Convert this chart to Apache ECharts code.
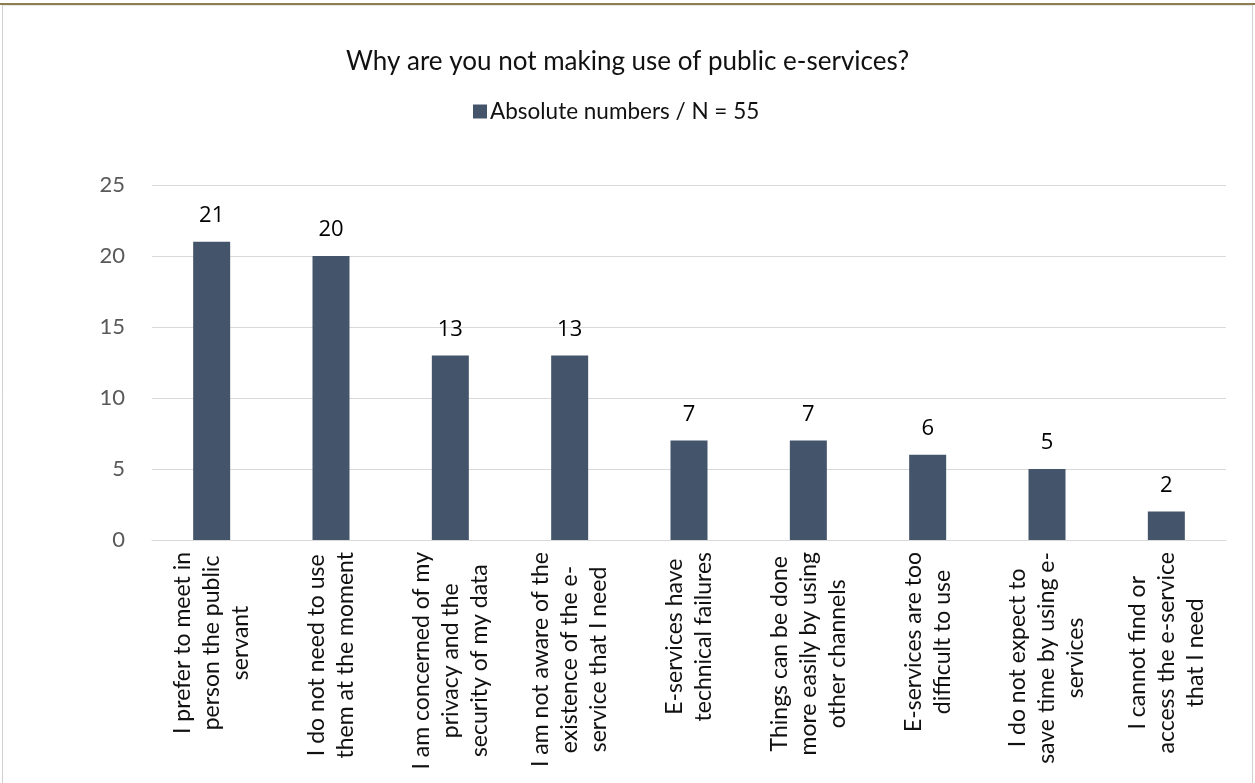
<!DOCTYPE html>
<html><head><meta charset="utf-8">
<script src="https://cdn.jsdelivr.net/npm/echarts@6/dist/echarts.min.js"></script>
<style>html,body{margin:0;padding:0;background:#fff}#c{width:1255px;height:783px}</style>
</head><body><div id="c"></div>
<script>
const categories = [
  "I prefer to meet in\nperson the public\nservant",
  "I do not need to use\nthem at the moment",
  "I am concerned of my\nprivacy and the\nsecurity of my data",
  "I am not aware of the\nexistence of the e-\nservice that I need",
  "E-services have\ntechnical failures",
  "Things can be done\nmore easily by using\nother channels",
  "E-services are too\ndifficult to use",
  "I do not expect to\nsave time by using e-\nservices",
  "I cannot find or\naccess the e-service\nthat I need"
];
const values = [21, 20, 13, 13, 7, 7, 6, 5, 2];
const seriesName = "Absolute numbers / N = 55";
const titleText = "Why are you not making use of public e-services?";

const chart = echarts.init(document.getElementById('c'), null, {renderer: 'canvas'});
const fontMain = "Lato, 'Open Sans', sans-serif";
chart.setOption({
  backgroundColor: '#fff',
  animation: false,
  title: {
    text: titleText, left: 'center', top: 44,
    textStyle: {fontFamily: fontMain, fontSize: 26, fontWeight: 'normal', color: '#111'}
  },
  legend: {
    data: [seriesName], top: 95, left: 468, itemWidth: 14, itemHeight: 14, itemGap: 6,
    icon: 'rect',
    textStyle: {fontFamily: fontMain, fontSize: 22.5, color: '#111', padding: [0,0,0,-2]}
  },
  grid: {left: 152, right: 29, top: 185, bottom: 243, containLabel: false},
  xAxis: {
    type: 'category', data: categories,
    axisTick: {show: false},
    axisLine: {lineStyle: {color: '#d9d9d9', width: 1}},
    axisLabel: {
      interval: 0, rotate: 90, margin: 12,
      fontFamily: fontMain, fontSize: 23, color: '#111', lineHeight: 29,
      formatter: v => v.split('\n').map(s => '{c|' + s + '}').join('\n'),
      rich: {c: {align: 'center', fontFamily: fontMain, fontSize: 23, color: '#111', lineHeight: 29}}
    }
  },
  yAxis: {
    type: 'value', min: 0, max: 25, interval: 5,
    axisLine: {show: false}, axisTick: {show: false},
    splitLine: {lineStyle: {color: '#d9d9d9', width: 1}},
    axisLabel: {margin: 27, fontFamily: fontMain, fontSize: 22, color: '#595959'}
  },
  series: [{
    name: seriesName, type: 'bar', data: values, barWidth: 37,
    itemStyle: {color: '#44546A'},
    label: {show: true, position: 'top', distance: 15, fontFamily: "'Open Sans', sans-serif", fontSize: 22, color: '#000'}
  }],
  graphic: [
    {type: 'rect', shape: {x: 2.5, y: 5, width: 1250, height: 800}, style: {fill: 'none', stroke: '#d0d0d0', lineWidth: 1}, silent: true},
    {type: 'rect', shape: {x: 0, y: 3, width: 1255, height: 2}, style: {fill: '#8C7E4E'}, silent: true}
  ]
});
</script></body></html>
